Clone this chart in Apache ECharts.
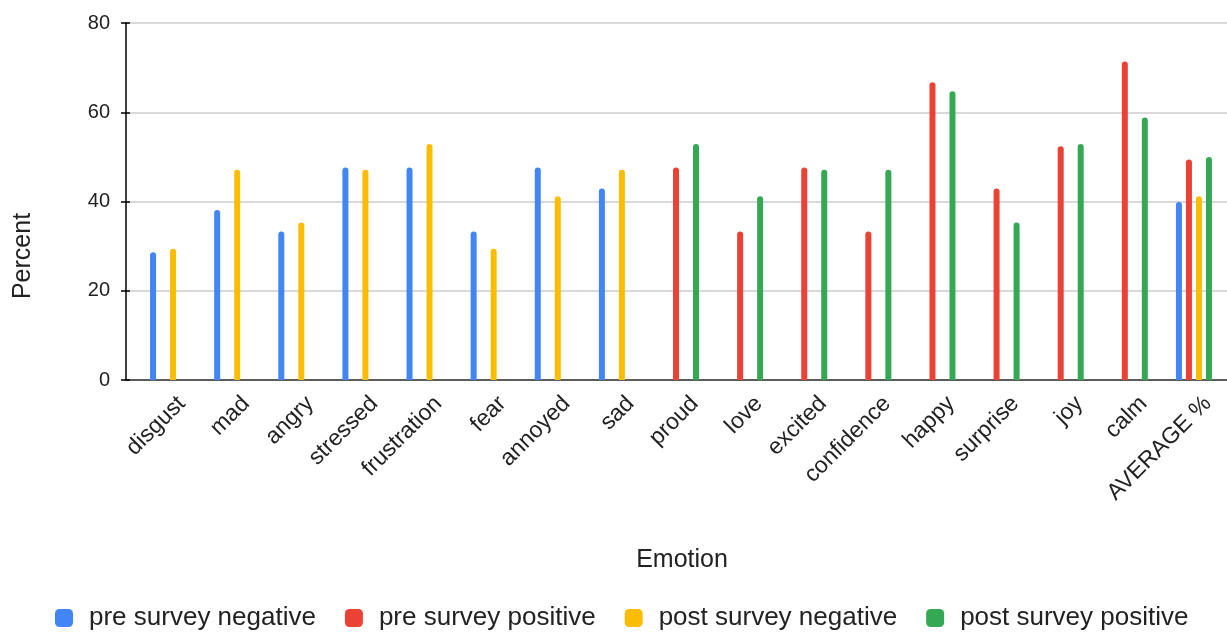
<!DOCTYPE html>
<html>
<head>
<meta charset="utf-8">
<script src="https://cdn.jsdelivr.net/npm/echarts@6/dist/echarts.min.js"></script>
<style>
  html, body { margin: 0; padding: 0; background: #fff; }
  #chart { width: 1227px; height: 633px; }
</style>
</head>
<body>
<div id="chart"></div>
<script>
// Emotion survey: share of respondents reporting each emotion before and after
const categories = ['disgust', 'mad', 'angry', 'stressed', 'frustration', 'fear', 'annoyed', 'sad',
  'proud', 'love', 'excited', 'confidence', 'happy', 'surprise', 'joy', 'calm', 'AVERAGE %'];

const preNegative  = [28.6, 38.1, 33.3, 47.6, 47.6, 33.3, 47.6, 42.9, null, null, null, null, null, null, null, null, 39.9];
const prePositive  = [null, null, null, null, null, null, null, null, 47.6, 33.3, 47.6, 33.3, 66.7, 42.9, 52.4, 71.4, 49.4];
const postNegative = [29.4, 47.1, 35.3, 47.1, 52.9, 29.4, 41.2, 47.1, null, null, null, null, null, null, null, null, 41.2];
const postPositive = [null, null, null, null, null, null, null, null, 52.9, 41.2, 47.1, 47.1, 64.7, 35.3, 52.9, 58.8, 50.0];

const seriesNames = ['pre survey negative', 'pre survey positive', 'post survey negative', 'post survey positive'];
const seriesColors = ['#4285F4', '#EA4335', '#FBBC04', '#34A853'];

const yMin = 0, yMax = 80, yStep = 20;

const FONT = '"Liberation Sans", Arial, sans-serif';
const TOP = 23, BOTTOM = 253;

const chart = echarts.init(document.getElementById('chart'));

const seriesData = [preNegative, prePositive, postNegative, postPositive];

chart.setOption({
  animation: false,
  backgroundColor: '#ffffff',
  textStyle: { fontFamily: FONT },
  grid: [
    // frame: value axis, gridlines and baseline
    { left: 126, right: 0, top: TOP, bottom: BOTTOM },
    // bars and category labels
    { left: 136, right: 1, top: TOP, bottom: BOTTOM }
  ],
  xAxis: [
    {
      gridIndex: 0, type: 'category', data: categories,
      axisLine: { lineStyle: { color: '#333333', width: 1.5 } },
      axisTick: { show: false }, axisLabel: { show: false }, splitLine: { show: false }
    },
    {
      gridIndex: 1, type: 'category', data: categories,
      axisLine: { show: false }, axisTick: { show: false },
      axisLabel: {
        rotate: 45, margin: 12, color: '#222222', verticalAlign: 'top',
        padding: [4, -4, 0, 0],
        fontSize: 23, fontFamily: FONT, interval: 0
      }
    }
  ],
  yAxis: [
    {
      gridIndex: 0, type: 'value', min: yMin, max: yMax, interval: yStep,
      axisLine: { show: true, lineStyle: { color: '#000000', width: 1.5 } },
      axisTick: { show: true, length: 5, lineStyle: { color: '#000000', width: 1.5 } },
      axisLabel: { margin: 16, color: '#222222', fontSize: 20, fontFamily: FONT },
      splitLine: { lineStyle: { color: '#cccccc', width: 1.5 } }
    },
    {
      // inward half of the cross-shaped tick marks
      gridIndex: 0, type: 'value', min: yMin, max: yMax, interval: yStep, position: 'left',
      axisLine: { show: false },
      axisTick: { show: true, inside: true, length: 4, lineStyle: { color: '#000000', width: 1.5 } },
      axisLabel: { show: false }, splitLine: { show: false }
    },
    {
      gridIndex: 1, type: 'value', min: yMin, max: yMax, interval: yStep, show: false,
      splitLine: { show: false }
    }
  ],
  legend: {
    top: 605, left: 55,
    padding: 0,
    data: seriesNames,
    icon: 'roundRect',
    itemWidth: 18, itemHeight: 18, itemGap: 29,
    textStyle: { fontSize: 26, color: '#222222', fontFamily: FONT, padding: [0, 0, 0, 11] }
  },
  graphic: [
    {
      type: 'text', x: 682, y: 560,
      style: { text: 'Emotion', font: '25px ' + FONT, fill: '#222222', align: 'center', verticalAlign: 'middle' }
    },
    {
      type: 'text', x: 23, y: 256, rotation: Math.PI / 2,
      style: { text: 'Percent', font: '25px ' + FONT, fill: '#222222', align: 'center', verticalAlign: 'middle' }
    }
  ],
  series: seriesNames.map((name, i) => ({
    name,
    type: 'bar',
    xAxisIndex: 1, yAxisIndex: 2,
    data: seriesData[i],
    barWidth: 6,
    barGap: '66.7%',
    itemStyle: { color: seriesColors[i], borderRadius: [3, 3, 0, 0] }
  }))
});
</script>
</body>
</html>
